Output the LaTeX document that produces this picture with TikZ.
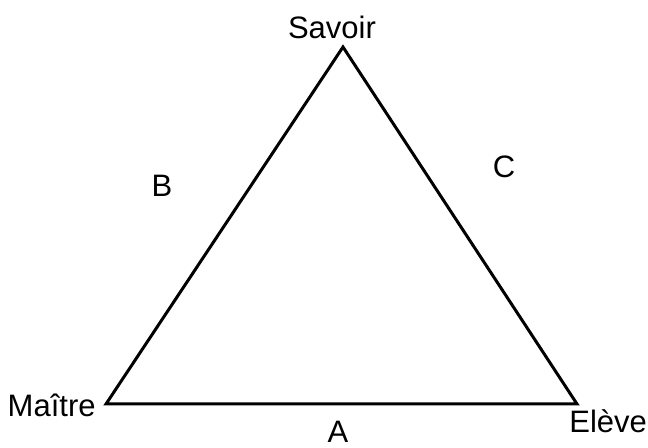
\documentclass[tikz,border=0pt]{standalone}
\usepackage{fontspec}
\setmainfont{Liberation Sans}
\tikzset{
  every picture/.style={x=0.5pt, y=-0.5pt, font=\fontsize{15.5}{18}\selectfont},
  side/.style={line width=1.5pt, line join=miter},
  lbl/.style={inner sep=0pt, anchor=base},
}
\begin{document}
\begin{tikzpicture}
  \useasboundingbox (0,0) rectangle (648,448);
  % sommets du triangle
  \coordinate (savoir) at (343,47);
  \coordinate (maitre) at (106,404);
  \coordinate (eleve) at (577,404);
  \draw[side] (maitre) -- (savoir) -- (eleve) -- cycle;
  \node[lbl] (tsavoir) at (332,39) {Savoir};
  \node[lbl, anchor=base east] (tmaitre) at (96,417) {Maître};
  \node[lbl, anchor=base west] (televe) at (569,433) {Elève};
  % côtés
  \node[lbl] (ca) at (338,443) {A};
  \node[lbl] (cb) at (162,197) {B};
  \node[lbl] (cc) at (504,178) {C};
\end{tikzpicture}
\end{document}
